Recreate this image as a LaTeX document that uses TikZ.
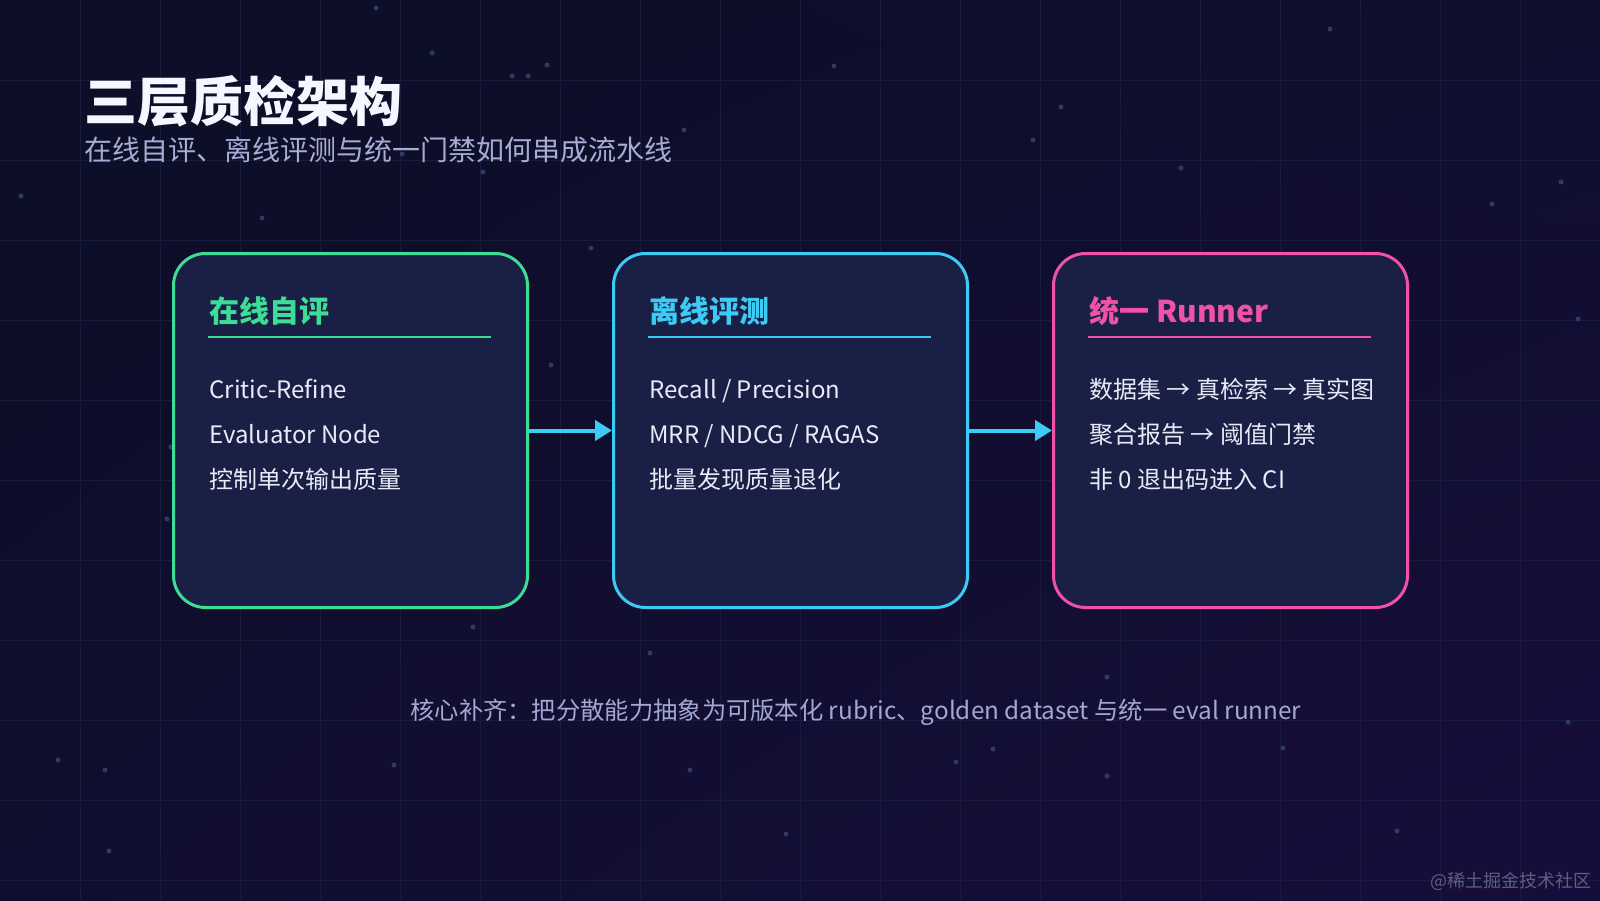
\documentclass[tikz,border=0pt]{standalone}
\usepackage{fontspec}
\setmainfont{Noto Sans CJK SC}
\usetikzlibrary{arrows.meta,shadings}

\definecolor{bgtl}{HTML}{0C0E25}
\definecolor{bgtr}{HTML}{100F2E}
\definecolor{bgbl}{HTML}{100E2E}
\definecolor{bgbr}{HTML}{170D3C}
\definecolor{gridcol}{HTML}{181A3E}
\definecolor{starcol}{HTML}{2C3A66}
\definecolor{cardfill}{HTML}{1A2045}
\definecolor{cgreen}{HTML}{3DDC97}
\definecolor{ccyan}{HTML}{3CCBF4}
\definecolor{cpink}{HTML}{F052A8}
\definecolor{titlewhite}{HTML}{F5F6FF}
\definecolor{subgray}{HTML}{A6ADD3}
\definecolor{itemtext}{HTML}{E8EBF7}
\definecolor{footgray}{HTML}{A3A8D2}
\definecolor{markgray}{HTML}{5E5F7E}

\tikzset{
  gridline/.style={draw=gridcol, line width=0.4pt},
  star/.style={fill=starcol},
  card/.style={draw, line width=1.5pt, fill=cardfill, rounded corners=16pt,
    minimum width=177pt, minimum height=177pt},
  txt/.style={anchor=base west, inner sep=0pt},
  head/.style={txt, font=\fontsize{15pt}{18pt}\selectfont\bfseries},
  item/.style={txt, text=itemtext, font=\fontsize{12pt}{14pt}\selectfont},
  flow/.style={draw=ccyan, line width=2pt, -{Triangle[length=8.5pt,width=10pt]}},
}

\begin{document}
\begin{tikzpicture}[x=0.5pt, y=-0.5pt]
  % Background
  \useasboundingbox (0,0) rectangle (1600,900);
  \shade[upper left=bgtl, upper right=bgtr, lower left=bgbl, lower right=bgbr] (0,0) rectangle (1600,900);

  % Grid
  \foreach \x in {80,160,...,1520} \draw[gridline] (\x,0) -- (\x,900);
  \foreach \y in {80,160,...,880} \draw[gridline] (0,\y) -- (1600,\y);

  % Stars
  \foreach \p in {(376,8),(432,53),(547,65),(512,76),(528,76),(684,130),(402,154),(483,172),
    (21,196),(262,218),(834,66),(1061,107),(1033,140),(1181,168),(1330,29),(1492,204),
    (1561,182),(1578,319),(591,248),(551,365),(167,519),(171,447),(473,627),(650,653),
    (58,760),(105,770),(394,765),(690,770),(786,834),(956,762),(993,749),(1107,677),
    (1107,776),(1283,748),(1397,831),(1568,722),(109,851)}
    \fill[star] \p circle (2.5);

  % Title
  \node[txt, text=titlewhite, font=\fontsize{26.5pt}{30pt}\selectfont\bfseries] (title) at (84,121) {三层质检架构};
  \node[txt, text=subgray, font=\fontsize{14pt}{16pt}\selectfont] (subtitle) at (84,160) {在线自评、离线评测与统一门禁如何串成流水线};

  % Cards
  \node[card, draw=cgreen] (online) at (350.5,430.5) {};
  \node[card, draw=ccyan] (offline) at (790.5,430.5) {};
  \node[card, draw=cpink] (runner) at (1230.5,430.5) {};

  % Arrows
  \draw[flow] (online) -- (offline);
  \draw[flow] (offline) -- (runner);

  % Headings, rules and items
  \foreach \n/\x/\c/\h/\ia/\ib/\ic in {
    online/209/cgreen/在线自评/Critic-Refine/Evaluator Node/控制单次输出质量,
    offline/649/ccyan/离线评测/{Recall / Precision}/{MRR / NDCG / RAGAS}/批量发现质量退化,
    runner/1089/cpink/{统一 Runner}/{数据集 → 真检索 → 真实图}/{聚合报告 → 阈值门禁}/{非 0 退出码进入 CI}} {
    \node[head, text=\c] (\n-head) at (\x,322) {\h};
    \draw[\c, line width=1pt] (\x-1,337) -- (\x+282,337);
    \node[item] (\n-a) at (\x,398) {\ia};
    \node[item] (\n-b) at (\x,443) {\ib};
    \node[item] (\n-c) at (\x,488) {\ic};
  }

  % Footer
  \node[txt, text=footgray, font=\fontsize{12.15pt}{14pt}\selectfont] (note) at (410,719) {核心补齐：把分散能力抽象为可版本化 rubric、golden dataset 与统一 eval runner};
  \node[anchor=base east, inner sep=0pt, text=markgray, font=\fontsize{9pt}{10pt}\selectfont] (mark) at (1592,887) {@稀土掘金技术社区};
\end{tikzpicture}
\end{document}
